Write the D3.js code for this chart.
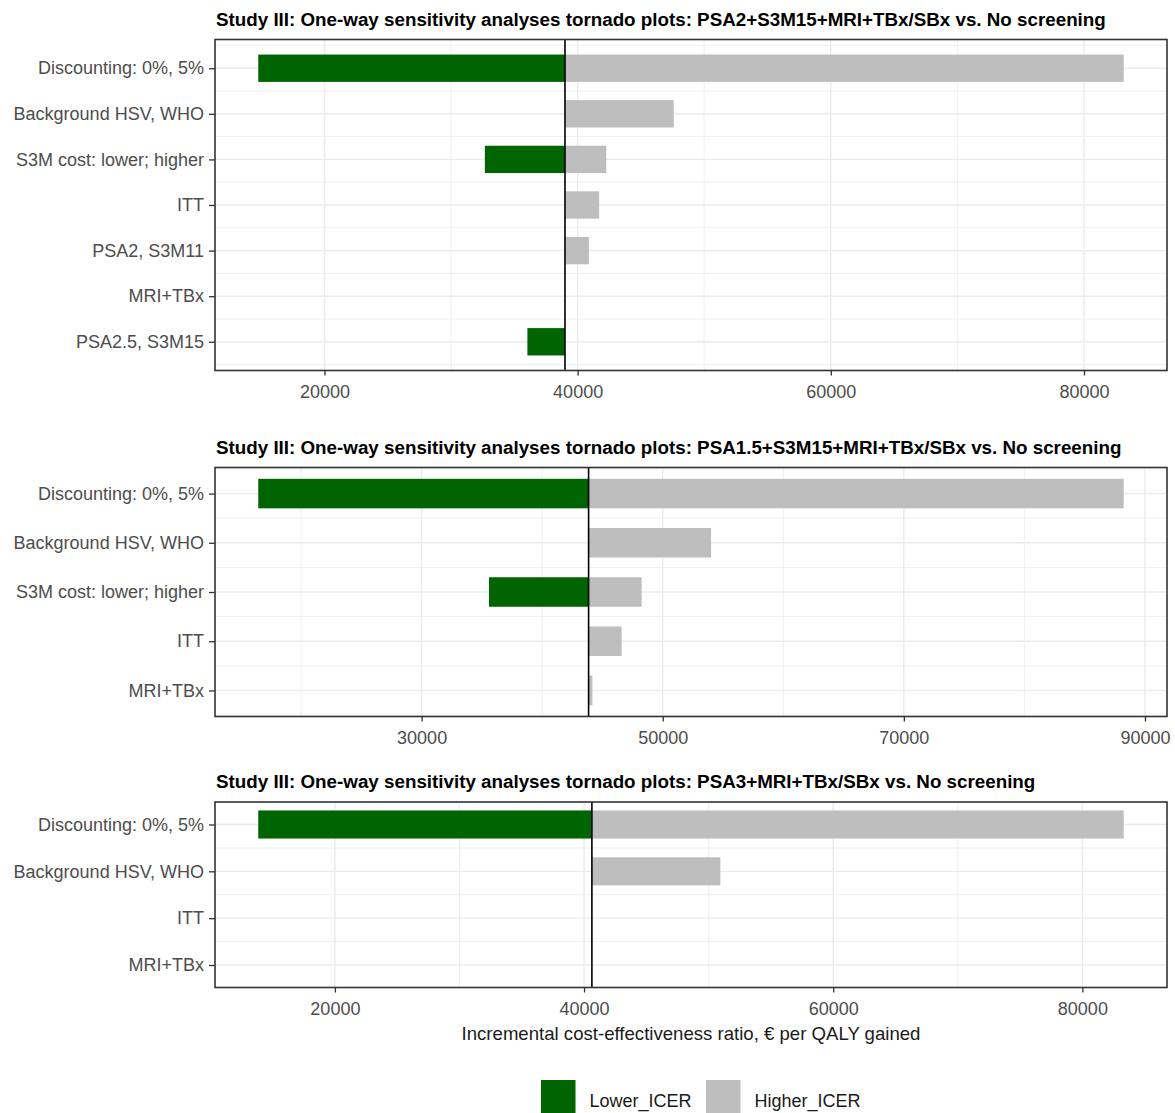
<!DOCTYPE html>
<html>
<head>
<meta charset="utf-8">
<script src="https://cdn.jsdelivr.net/npm/d3@7"></script>
<style>
  html, body { margin: 0; padding: 0; background: #ffffff; }
  svg { display: block; }
  text { font-family: "Liberation Sans", Arial, sans-serif; }
</style>
</head>
<body>
<svg id="chart" width="1175" height="1113"></svg>
<script>
// ---- Study III one-way sensitivity analyses (ICER, € per QALY gained) ----

// Panel 1: PSA2+S3M15+MRI+TBx/SBx vs. No screening
const title1 = "Study III: One-way sensitivity analyses tornado plots: PSA2+S3M15+MRI+TBx/SBx vs. No screening";
const params1 = ["Discounting: 0%, 5%", "Background HSV, WHO", "S3M cost: lower; higher", "ITT", "PSA2, S3M11", "MRI+TBx", "PSA2.5, S3M15"];
const base1 = 39000;
const lower1 = [14770, 39000, 32670, 39000, 39000, 39000, 36030];
const higher1 = [83140, 47590, 42260, 41700, 40890, 39000, 39000];
const ticks1 = [20000, 40000, 60000, 80000];

// Panel 2: PSA1.5+S3M15+MRI+TBx/SBx vs. No screening
const title2 = "Study III: One-way sensitivity analyses tornado plots: PSA1.5+S3M15+MRI+TBx/SBx vs. No screening";
const params2 = ["Discounting: 0%, 5%", "Background HSV, WHO", "S3M cost: lower; higher", "ITT", "MRI+TBx"];
const base2 = 43850;
const lower2 = [16450, 43850, 35590, 43850, 43850];
const higher2 = [88240, 54010, 48250, 46590, 44170];
const ticks2 = [30000, 50000, 70000, 90000];

// Panel 3: PSA3+MRI+TBx/SBx vs. No screening
const title3 = "Study III: One-way sensitivity analyses tornado plots: PSA3+MRI+TBx/SBx vs. No screening";
const params3 = ["Discounting: 0%, 5%", "Background HSV, WHO", "ITT", "MRI+TBx"];
const base3 = 40630;
const lower3 = [13850, 40630, 40630, 40630];
const higher3 = [83320, 50940, 40630, 40630];
const ticks3 = [20000, 40000, 60000, 80000];

const xTitle = "Incremental cost-effectiveness ratio, € per QALY gained";
const legendLabels = ["Lower_ICER", "Higher_ICER"];

const COL_LOW = "#006400";
const COL_HIGH = "#bebebe";
const GRID = "#ebebeb";
const INK = "#333333";

const svg = d3.select("#chart");

const left = 215, right = 1167;
const barHalf = 0.3;

function panel(cfg) {
  const { title, params, base, lower, higher, ticks, top, bottom } = cfg;
  const n = params.length;
  const g = svg.append("g");

  // x domain: full data extent with a 5% expansion on both sides
  const all = lower.concat(higher, [base]);
  const lo = d3.min(all), hi = d3.max(all);
  const padX = (hi - lo) * 0.05;
  const x = d3.scaleLinear().domain([lo - padX, hi + padX]).range([left, right]);

  // y: rows at integer positions (first parameter on top), rect half-height 0.3
  const yLo = 1 - barHalf, yHi = n + barHalf;
  const padY = (yHi - yLo) * 0.05;
  const yDom = [yLo - padY, yHi + padY];
  const y = d3.scaleLinear().domain(yDom).range([bottom, top]);
  const rowVal = i => n - i;

  // minor grid
  const xMinor = d3.range(0, 200001, 10000).filter(v => v > x.domain()[0] && v < x.domain()[1] && !ticks.includes(v));
  const yMinor = d3.range(0.5, n + 1, 1).filter(v => v > yDom[0] && v < yDom[1]);
  g.selectAll(".xminor").data(xMinor).join("line")
    .attr("x1", d => x(d)).attr("x2", d => x(d)).attr("y1", top).attr("y2", bottom)
    .attr("stroke", GRID).attr("stroke-width", 0.8);
  g.selectAll(".yminor").data(yMinor).join("line")
    .attr("x1", left).attr("x2", right).attr("y1", d => y(d)).attr("y2", d => y(d))
    .attr("stroke", GRID).attr("stroke-width", 0.8);

  // major grid
  g.selectAll(".xmajor").data(ticks).join("line")
    .attr("x1", d => x(d)).attr("x2", d => x(d)).attr("y1", top).attr("y2", bottom)
    .attr("stroke", GRID).attr("stroke-width", 1.4);
  g.selectAll(".ymajor").data(d3.range(1, n + 1)).join("line")
    .attr("x1", left).attr("x2", right).attr("y1", d => y(d)).attr("y2", d => y(d))
    .attr("stroke", GRID).attr("stroke-width", 1.4);

  // bars: lower ICER (green) and higher ICER (grey), each from the base case
  const rows = params.map((p, i) => ({ p, i, low: lower[i], high: higher[i] }));
  g.selectAll(".low").data(rows).join("rect")
    .attr("x", d => x(Math.min(d.low, base)))
    .attr("width", d => Math.abs(x(d.low) - x(base)))
    .attr("y", d => y(rowVal(d.i) + barHalf))
    .attr("height", d => y(rowVal(d.i) - barHalf) - y(rowVal(d.i) + barHalf))
    .attr("fill", COL_LOW);
  g.selectAll(".high").data(rows).join("rect")
    .attr("x", d => x(Math.min(d.high, base)))
    .attr("width", d => Math.abs(x(d.high) - x(base)))
    .attr("y", d => y(rowVal(d.i) + barHalf))
    .attr("height", d => y(rowVal(d.i) - barHalf) - y(rowVal(d.i) + barHalf))
    .attr("fill", COL_HIGH);

  // base-case line
  g.append("line")
    .attr("x1", x(base)).attr("x2", x(base)).attr("y1", top).attr("y2", bottom)
    .attr("stroke", "#000").attr("stroke-width", 1.6);

  // panel border
  g.append("rect")
    .attr("x", left).attr("y", top).attr("width", right - left).attr("height", bottom - top)
    .attr("fill", "none").attr("stroke", INK).attr("stroke-width", 1.6);

  // x axis
  const xAxis = d3.axisBottom(x).tickValues(ticks).tickSize(5).tickPadding(10).tickFormat(d3.format("d"));
  const xa = g.append("g").attr("transform", `translate(0,${bottom})`).call(xAxis);
  xa.select(".domain").remove();
  xa.selectAll(".tick line").attr("stroke", INK).attr("stroke-width", 1.3);
  xa.selectAll(".tick text").attr("fill", "#4d4d4d").style("font-size", "18px")
    .style("font-family", "'Liberation Sans', Arial, sans-serif");

  // y axis
  const yAxis = d3.axisLeft(y).tickValues(d3.range(1, n + 1)).tickSize(6).tickPadding(5)
    .tickFormat(v => params[n - v]);
  const ya = g.append("g").attr("transform", `translate(${left},0)`).call(yAxis);
  ya.select(".domain").remove();
  ya.selectAll(".tick line").attr("stroke", INK).attr("stroke-width", 1.3);
  ya.selectAll(".tick text").attr("fill", "#4d4d4d").style("font-size", "18px")
    .style("font-family", "'Liberation Sans', Arial, sans-serif");

  // title
  g.append("text")
    .attr("x", left + 1).attr("y", top - 14)
    .attr("fill", "#000").style("font-size", "18.8px").style("font-weight", "bold")
    .text(title);

  return x;
}

panel({ title: title1, params: params1, base: base1, lower: lower1, higher: higher1, ticks: ticks1, top: 39.5, bottom: 370.5 });
panel({ title: title2, params: params2, base: base2, lower: lower2, higher: higher2, ticks: ticks2, top: 467.5, bottom: 716.5 });
panel({ title: title3, params: params3, base: base3, lower: lower3, higher: higher3, ticks: ticks3, top: 802, bottom: 987.5 });

// x-axis title
svg.append("text")
  .attr("x", (left + right) / 2).attr("y", 1040)
  .attr("text-anchor", "middle").attr("fill", "#1a1a1a")
  .style("font-size", "18.6px")
  .text(xTitle);

// legend
const legColors = [COL_LOW, COL_HIGH];
const legX = [541, 706];
const leg = svg.append("g");
legendLabels.forEach((lab, i) => {
  leg.append("rect").attr("x", legX[i]).attr("y", 1080).attr("width", 34.5).attr("height", 36)
    .attr("fill", legColors[i]);
  leg.append("text").attr("x", legX[i] + 48.5).attr("y", 1107)
    .attr("fill", "#1a1a1a").style("font-size", "18px").text(lab);
});
</script>
</body>
</html>
